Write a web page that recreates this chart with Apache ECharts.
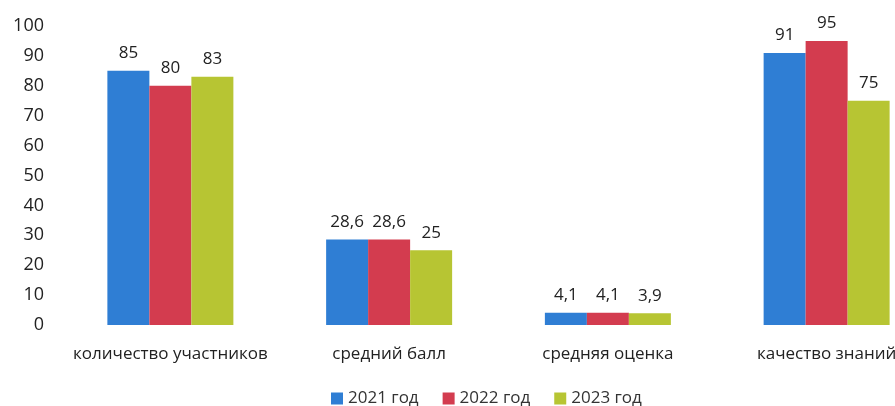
<!DOCTYPE html>
<html>
<head>
<meta charset="utf-8">
<script src="https://cdn.jsdelivr.net/npm/echarts@6/dist/echarts.min.js"></script>
<style>
  html, body { margin: 0; padding: 0; background: #fff; overflow: hidden; }
  /* the reference is cut off on the right, so the chart is a bit wider than the window */
  #main { width: 936px; height: 406px; }
</style>
</head>
<body>
<div id="main"></div>
<script>
// data
const categories = ['количество участников', 'средний балл', 'средняя оценка', 'качество знаний'];
const years = ['2021 год', '2022 год', '2023 год'];
const values_2021 = [85, 28.6, 4.1, 91];
const values_2022 = [80, 28.6, 4.1, 95];
const values_2023 = [83, 25, 3.9, 75];
const y_ticks = [0, 10, 20, 30, 40, 50, 60, 70, 80, 90, 100];

const colors = ['#2f7ed4', '#d33c4f', '#b7c533'];
const font = 'Open Sans';

var chartDom = document.getElementById('main');
var myChart = echarts.init(chartDom);

function make_series(name, data, color) {
    return {
        name: name,
        type: 'bar',
        data: data,
        barWidth: 42,
        barGap: '0%',
        itemStyle: { color: color },
        label: {
            show: true,
            position: 'top',
            distance: 9,
            color: '#222',
            fontFamily: font,
            fontSize: 17,
            formatter: function (p) {
                return String(p.value).replace('.', ',');
            }
        }
    };
}

var option = {
    animation: false,
    textStyle: { fontFamily: font },
    legend: {
        data: years,
        left: 326,
        top: 385,
        itemWidth: 12,
        itemHeight: 12,
        itemGap: 24,
        icon: 'rect',
        textStyle: { fontFamily: font, fontSize: 17, color: '#333' }
    },
    grid: { left: 61, right: 0, top: 26, bottom: 81 },
    xAxis: {
        type: 'category',
        data: categories,
        axisLine: { show: false },
        axisTick: { show: false },
        axisLabel: { interval: 0, margin: 21, color: '#222', fontFamily: font, fontSize: 17 }
    },
    yAxis: {
        type: 'value',
        min: y_ticks[0],
        max: y_ticks[y_ticks.length - 1],
        interval: 10,
        splitLine: { show: false },
        axisLine: { show: false },
        axisTick: { show: false },
        axisLabel: { margin: 17, color: '#222', fontFamily: font, fontSize: 18 }
    },
    series: [
        make_series(years[0], values_2021, colors[0]),
        make_series(years[1], values_2022, colors[1]),
        make_series(years[2], values_2023, colors[2])
    ]
};

myChart.setOption(option);
</script>
</body>
</html>
